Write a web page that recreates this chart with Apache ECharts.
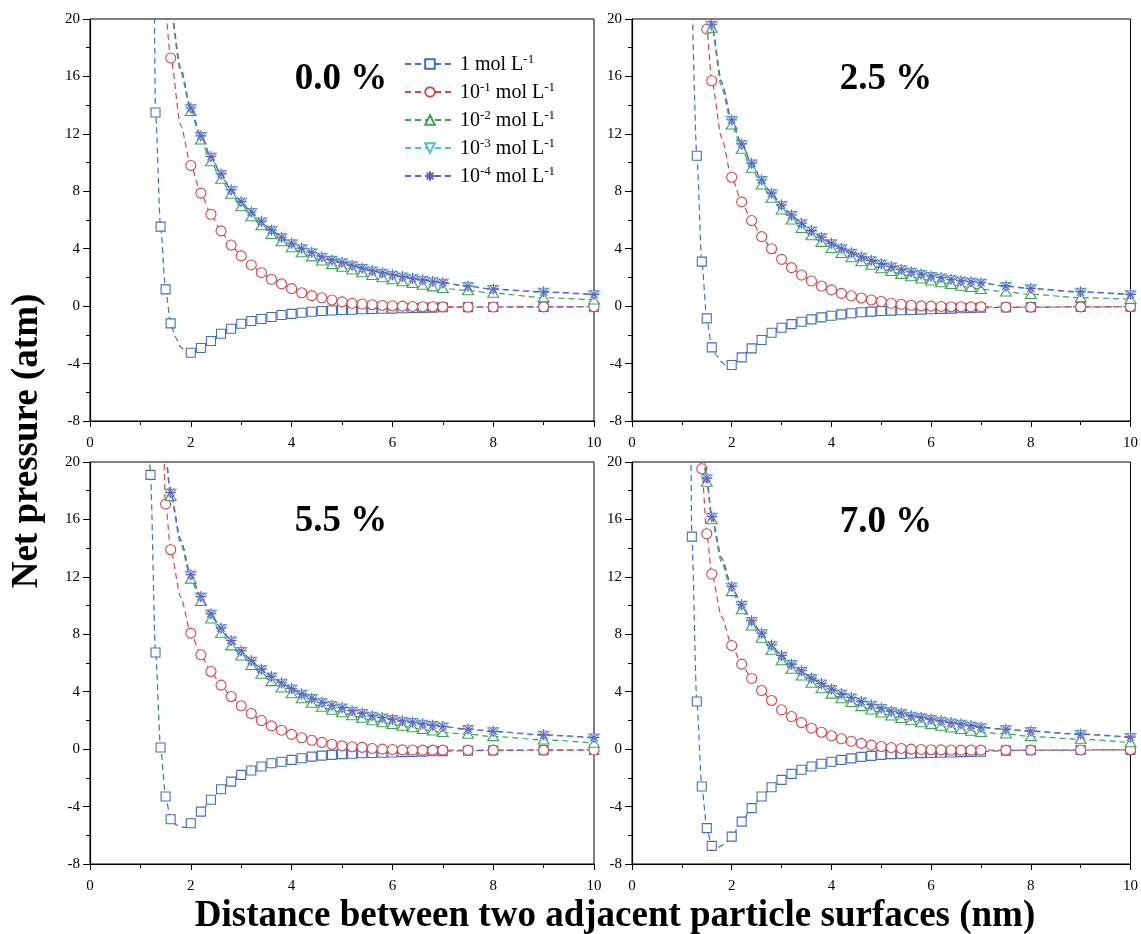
<!DOCTYPE html>
<html>
<head>
<meta charset="utf-8">
<script src="https://cdn.jsdelivr.net/npm/echarts@6/dist/echarts.min.js"></script>
<style>html,body{margin:0;padding:0;background:#fff}#c{width:1141px;height:934px}</style>
</head>
<body>
<div id="c"></div>
<script>
// Shared x positions (nm). Points in curveOnlyX carry the dashed curve but no marker.
const X = [1.15,1.2,1.3,1.4,1.5,1.6,1.7,1.8,1.9,2.0,2.2,2.4,2.6,2.8,3.0,3.2,3.4,3.6,3.8,4.0,4.2,4.4,4.6,4.8,5.0,5.2,5.4,5.6,5.8,6.0,6.2,6.4,6.6,6.8,7.0,7.5,8,9,10];
const curveOnlyX = [1.15,1.7,1.8,1.9];

const seriesNames = ['1 mol L^-1','10^-1 mol L^-1','10^-2 mol L^-1','10^-3 mol L^-1','10^-4 mol L^-1'];
const panelLabels = ['0.0 %','2.5 %','5.5 %','7.0 %'];
const xTitle = 'Distance between two adjacent particle surfaces (nm)';
const yTitle = 'Net pressure (atm)';

// Panel 1: 0.0 %
const blue1   = [null,80,13.49,5.54,1.17,-1.2,-2.2,-2.85,-3.2,-3.25,-2.92,-2.43,-1.92,-1.57,-1.23,-1.04,-0.9,-0.76,-0.62,-0.54,-0.46,-0.39,-0.34,-0.3,-0.27,-0.25,-0.22,-0.2,-0.18,-0.17,-0.15,-0.13,-0.12,-0.1,-0.08,-0.07,-0.06,-0.05,-0.04];
const red1    = [null,90,60,35,20.4,17.28,null,12.6,null,9.8,7.87,6.4,5.24,4.26,3.5,2.87,2.33,1.87,1.55,1.22,0.93,0.73,0.58,0.43,0.3,0.2,0.15,0.1,0.05,0.03,0.0,-0.02,-0.04,-0.04,-0.05,-0.06,-0.06,-0.05,-0.04];
const green1  = [null,90,60,40,26,20.5,null,16.3,null,13.56,11.58,10.07,8.84,7.8,6.93,6.23,5.6,5.0,4.49,4.07,3.72,3.44,3.15,2.9,2.72,2.52,2.33,2.15,1.99,1.85,1.71,1.58,1.46,1.35,1.24,1.08,0.9,0.59,0.43];
const cyan1   = [null,90,60,40,26,20.7,null,16.5,null,13.74,11.8,10.36,9.15,8.05,7.23,6.51,5.86,5.26,4.76,4.34,3.99,3.71,3.4,3.18,3.01,2.81,2.62,2.44,2.29,2.15,2.02,1.9,1.79,1.69,1.59,1.36,1.15,0.96,0.78];
const violet1 = [null,90,60,40,26,20.8,null,16.6,null,13.8,11.86,10.42,9.21,8.1,7.28,6.56,5.91,5.31,4.8,4.38,4.03,3.75,3.44,3.22,3.05,2.85,2.66,2.48,2.33,2.19,2.06,1.94,1.83,1.73,1.63,1.4,1.19,1.0,0.82];

// Panel 2: 2.5 %
const blue2   = [null,22.4,10.47,3.1,-0.85,-2.87,-3.45,-3.9,-4.2,-4.1,-3.57,-2.94,-2.36,-1.85,-1.5,-1.25,-1.09,-0.92,-0.78,-0.67,-0.57,-0.5,-0.43,-0.38,-0.34,-0.31,-0.29,-0.27,-0.24,-0.22,-0.19,-0.17,-0.15,-0.13,-0.11,-0.09,-0.07,-0.05,-0.04];
const red2    = [null,60,40,23,19.3,15.7,null,11.7,null,8.98,7.26,5.96,4.84,4.0,3.26,2.68,2.17,1.75,1.4,1.13,0.89,0.72,0.57,0.43,0.32,0.2,0.13,0.06,0.02,0.0,-0.02,-0.04,-0.04,-0.05,-0.05,-0.07,-0.07,-0.05,-0.04];
const green2  = [null,70,45,30,22,19.37,null,15.2,null,12.63,10.93,9.61,8.44,7.52,6.7,6.0,5.42,4.91,4.45,4.03,3.68,3.38,3.1,2.85,2.62,2.42,2.22,2.06,1.9,1.76,1.64,1.51,1.4,1.3,1.17,1.0,0.82,0.59,0.48];
const cyan2   = [null,70,45,30,21.4,19.54,null,15.5,null,12.92,11.24,9.9,8.74,7.82,7.0,6.31,5.73,5.22,4.76,4.34,3.99,3.68,3.4,3.15,2.92,2.72,2.52,2.36,2.2,2.06,1.95,1.83,1.73,1.66,1.59,1.36,1.2,0.96,0.78];
const violet2 = [null,70,45,30,21.5,19.6,null,15.6,null,12.98,11.3,9.96,8.79,7.87,7.05,6.35,5.77,5.26,4.8,4.38,4.03,3.72,3.44,3.19,2.96,2.76,2.56,2.4,2.24,2.1,1.99,1.87,1.77,1.7,1.63,1.4,1.24,1.0,0.82];

// Panel 3: 5.5 %
const blue3   = [24,19.1,6.73,0.11,-3.3,-4.88,-5.25,-5.42,-5.45,-5.16,-4.35,-3.53,-2.79,-2.26,-1.79,-1.49,-1.21,-0.98,-0.88,-0.75,-0.63,-0.52,-0.45,-0.4,-0.35,-0.32,-0.29,-0.27,-0.25,-0.23,-0.21,-0.19,-0.17,-0.15,-0.14,-0.11,-0.09,-0.07,-0.05];
const red3    = [null,70,45,30,17.07,13.89,null,10.6,null,8.08,6.57,5.41,4.46,3.67,3.02,2.48,1.99,1.62,1.32,1.03,0.79,0.62,0.47,0.34,0.23,0.17,0.12,0.05,0.0,-0.02,-0.05,-0.06,-0.07,-0.07,-0.07,-0.07,-0.07,-0.07,-0.07];
const green3  = [null,60,40,28,20.2,17.6,null,14.3,null,11.85,10.29,9.08,8.08,7.2,6.5,5.83,5.23,4.71,4.27,3.87,3.51,3.21,2.93,2.72,2.55,2.33,2.16,1.98,1.85,1.73,1.61,1.5,1.38,1.27,1.16,1.04,0.88,0.65,0.42];
const cyan3   = [null,60,40,28,20.4,17.82,null,14.54,null,12.1,10.58,9.38,8.38,7.52,6.8,6.12,5.52,5.02,4.58,4.18,3.81,3.51,3.23,3.02,2.86,2.63,2.47,2.28,2.16,2.05,1.93,1.84,1.72,1.63,1.54,1.36,1.21,0.96,0.77];
const violet3 = [null,60,40,28,20.5,17.88,null,14.6,null,12.15,10.63,9.43,8.43,7.57,6.85,6.17,5.57,5.06,4.62,4.22,3.85,3.55,3.27,3.06,2.9,2.67,2.51,2.32,2.2,2.09,1.97,1.88,1.76,1.67,1.58,1.4,1.25,1.0,0.81];

// Panel 4: 7.0 %
const blue4   = [40,14.8,3.32,-2.6,-5.5,-6.74,-6.9,-6.72,-6.42,-6.09,-5.05,-4.11,-3.3,-2.65,-2.14,-1.72,-1.44,-1.21,-1.02,-0.88,-0.75,-0.64,-0.54,-0.47,-0.4,-0.35,-0.33,-0.3,-0.28,-0.27,-0.25,-0.23,-0.21,-0.19,-0.18,-0.1,-0.08,-0.06,-0.05];
const red4    = [null,30,21.5,19.53,15.0,12.2,null,9.2,null,7.22,5.92,4.92,4.08,3.39,2.74,2.27,1.85,1.46,1.18,0.93,0.72,0.55,0.4,0.28,0.18,0.11,0.05,0.0,-0.02,-0.04,-0.05,-0.06,-0.07,-0.07,-0.07,-0.07,-0.07,-0.06,-0.04];
const green4  = [null,60,35,21.5,18.6,15.98,null,13.0,null,10.98,9.71,8.59,7.73,6.9,6.17,5.57,5.11,4.6,4.22,3.84,3.52,3.25,2.97,2.74,2.52,2.31,2.15,1.98,1.85,1.72,1.6,1.48,1.38,1.26,1.16,1.06,0.88,0.69,0.45];
const cyan4   = [null,60,35,21.7,18.82,16.14,null,13.24,null,11.28,10.01,8.89,8.03,7.2,6.47,5.88,5.42,4.91,4.53,4.15,3.83,3.56,3.28,3.05,2.82,2.6,2.46,2.28,2.17,2.05,1.93,1.81,1.72,1.6,1.49,1.35,1.22,1.01,0.8];
const violet4 = [null,60,35,21.8,18.88,16.2,null,13.3,null,11.33,10.06,8.94,8.08,7.25,6.52,5.92,5.46,4.95,4.57,4.19,3.87,3.6,3.32,3.09,2.86,2.64,2.5,2.32,2.21,2.09,1.97,1.85,1.76,1.64,1.53,1.39,1.26,1.05,0.84];

const panels = [
  [blue1, red1, green1, cyan1, violet1],
  [blue2, red2, green2, cyan2, violet2],
  [blue3, red3, green3, cyan3, violet3],
  [blue4, red4, green4, cyan4, violet4]
];

const colors = ['#3E6FC4','#D6474A','#3FA352','#45BFD5','#6B5BC2'];
const symbols = [
  'rect',
  'circle',
  'path://M5,0L10,8.66L0,8.66Z',
  'path://M0,0L10,0L5,8.66Z',
  'path://M5,0L5,10M0,5L10,5M1.6,1.6L8.4,8.4M1.6,8.4L8.4,1.6'
];
const symbolSizes = [9, 10, [11, 9.5], [11, 9.5], 11];

const SERIF = '"Liberation Serif","Times New Roman",serif';

const gridPos = [
  {left: 90, top: 19, width: 504, height: 402},
  {left: 632, top: 19, width: 504, height: 402},
  {left: 90, top: 462, width: 504, height: 402},
  {left: 632, top: 462, width: 504, height: 402}
];
const labelPos = [[341, 79], [886, 79], [341, 521], [886, 522]];

function buildData(vals) {
  const out = [];
  X.forEach((x, i) => {
    const v = vals[i];
    if (v === null || v === undefined) return;
    if (curveOnlyX.indexOf(x) >= 0) out.push({value: [x, v], symbol: 'none'});
    else out.push([x, v]);
  });
  return out;
}

const grids = [], xAxes = [], yAxes = [], series = [], graphics = [];
gridPos.forEach((g, p) => {
  grids.push(Object.assign({show: true, borderColor: '#000', borderWidth: 1, backgroundColor: 'transparent'}, g));
  xAxes.push({
    type: 'value', gridIndex: p, min: 0, max: 10, interval: 2,
    axisLine: {show: true, onZero: false, lineStyle: {color: '#000', width: 1.2}},
    axisTick: {show: true, inside: false, length: 6, lineStyle: {color: '#000', width: 1}},
    minorTick: {show: true, splitNumber: 2, length: 4, lineStyle: {color: '#000', width: 1}},
    splitLine: {show: false},
    axisLabel: {fontFamily: SERIF, fontSize: 15, color: '#000', margin: 15}
  });
  yAxes.push({
    type: 'value', gridIndex: p, min: -8, max: 20, interval: 4,
    axisLine: {show: true, onZero: false, lineStyle: {color: '#000', width: 1.2}},
    axisTick: {show: true, inside: false, length: 7, lineStyle: {color: '#000', width: 1}},
    minorTick: {show: true, splitNumber: 2, length: 4, lineStyle: {color: '#000', width: 1}},
    splitLine: {show: false},
    axisLabel: {fontFamily: SERIF, fontSize: 15, color: '#000', margin: 10}
  });
  panels[p].forEach((vals, s) => {
    series.push({
      name: seriesNames[s], type: 'line', xAxisIndex: p, yAxisIndex: p,
      data: buildData(vals),
      smooth: 0.25, smoothMonotone: 'x',
      symbol: symbols[s], symbolSize: symbolSizes[s], symbolKeepAspect: true,
      showAllSymbol: true,
      itemStyle: {color: '#fff', borderColor: colors[s], borderWidth: 1.1},
      lineStyle: {color: colors[s], width: 1.2, type: [6, 4]},
      emphasis: {disabled: true},
      animation: false, z: 2 + s
    });
  });
  graphics.push({
    type: 'text', x: labelPos[p][0], y: labelPos[p][1],
    style: {text: panelLabels[p], font: 'bold 37px ' + SERIF, fill: '#000', textAlign: 'center', textVerticalAlign: 'middle'}
  });
});

graphics.push({
  type: 'text', x: 615, y: 916,
  style: {text: xTitle, font: 'bold 37px ' + SERIF, fill: '#000', textAlign: 'center', textVerticalAlign: 'middle'}
});
graphics.push({
  type: 'text', x: 27, y: 441, rotation: Math.PI / 2,
  style: {text: yTitle, font: 'bold 37px ' + SERIF, fill: '#000', textAlign: 'center', textVerticalAlign: 'middle'}
});

function fmt(name) {
  return '{n|' + name.replace(/\^(-?\d+)/g, '}{s|$1}{n|') + '}';
}

const chart = echarts.init(document.getElementById('c'), null, {renderer: 'canvas'});
chart.setOption({
  animation: false,
  backgroundColor: '#fff',
  grid: grids, xAxis: xAxes, yAxis: yAxes, series: series,
  legend: {
    data: seriesNames, orient: 'vertical', left: 399, top: 48,
    itemWidth: 50, itemHeight: 12, itemGap: 6,
    selectedMode: false,
    formatter: fmt,
    textStyle: {
      fontFamily: SERIF, color: '#000',
      rich: {
        n: {fontFamily: SERIF, fontSize: 20, lineHeight: 22, verticalAlign: 'bottom', color: '#000'},
        s: {fontFamily: SERIF, fontSize: 13, lineHeight: 13, verticalAlign: 'top', color: '#000'}
      }
    }
  },
  graphic: graphics
});
</script>
</body>
</html>
